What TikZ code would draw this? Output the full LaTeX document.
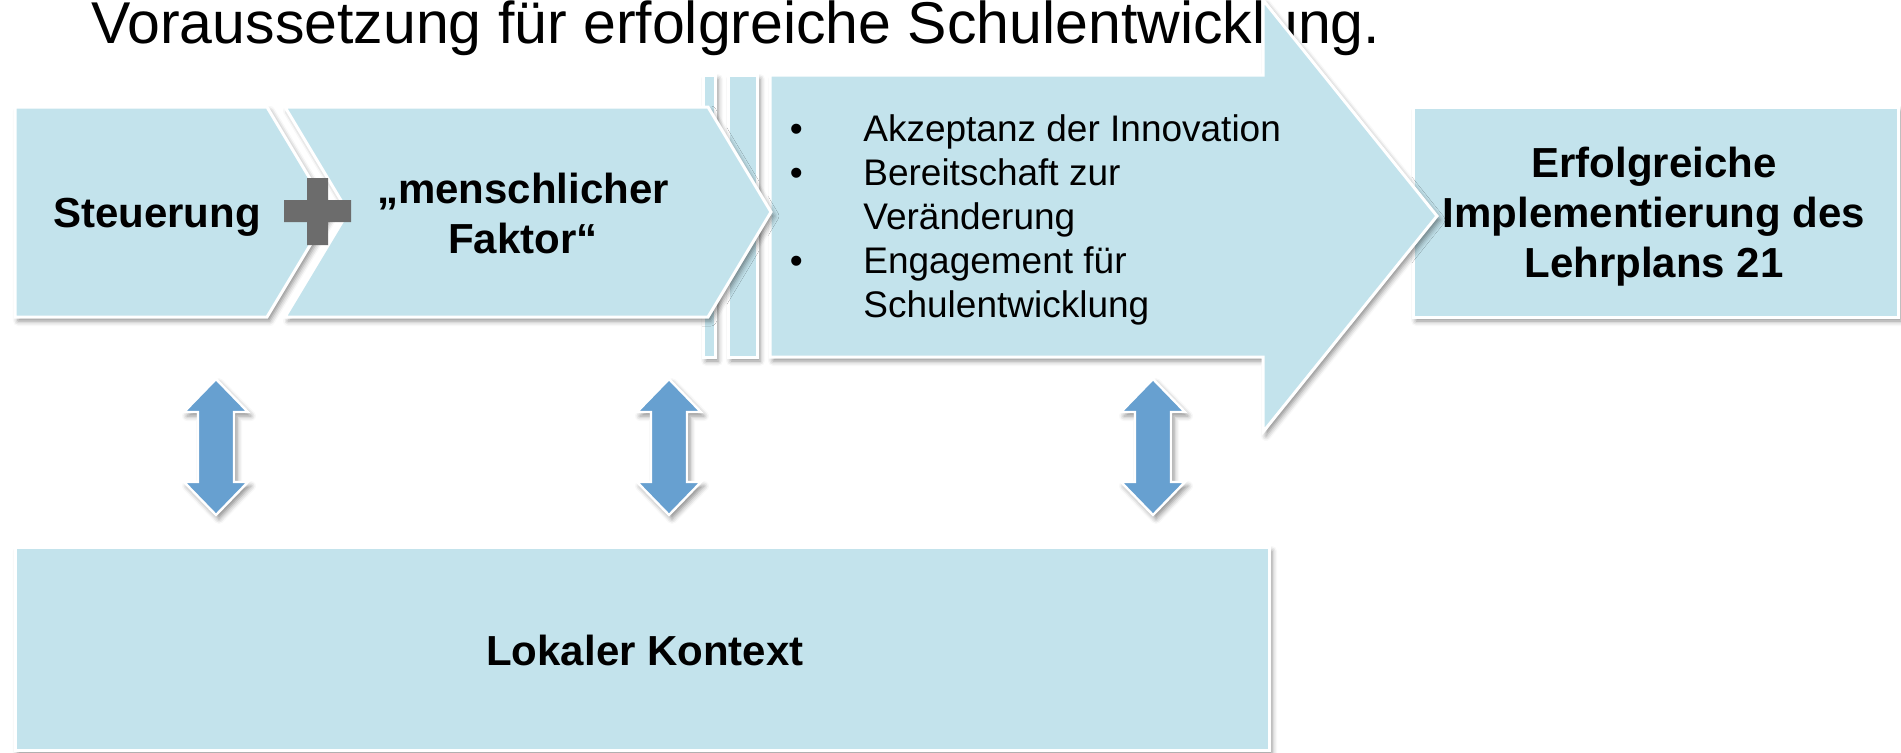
\documentclass[tikz,border=0pt]{standalone}
\usepackage{fontspec}
\setmainfont{Liberation Sans}
\usetikzlibrary{shadows.blur}
\definecolor{boxfill}{RGB}{195,227,236}
\definecolor{arrfill}{RGB}{103,160,208}
\definecolor{plusgray}{RGB}{108,108,108}
\newcommand{\bul}{\makebox[0pt][r]{•\hspace{30.3pt}}}
\begin{document}
\begin{tikzpicture}[x=0.5pt,y=-0.5pt,
  shd/.style={blur shadow={shadow xshift=1.5pt, shadow yshift=-2pt, shadow blur radius=2.5pt, shadow opacity=45}},
  blk/.style={fill=boxfill, draw=white, line width=1.5pt, line join=miter, shd},
  darr/.style={fill=arrfill, draw=white, line width=1.2pt, line join=miter, shd},
  lbl/.style={font=\fontsize{21pt}{25pt}\selectfont\bfseries, inner sep=0pt, text=black},
  bl/.style={font=\fontsize{18.5pt}{22pt}\selectfont, inner sep=0pt, text=black, align=left},
  ttl/.style={font=\fontsize{29.5pt}{34pt}\selectfont, inner sep=0pt, text=black}]
\useasboundingbox (0,0) rectangle (1901,752);
% title (cut by the top edge)
\node[ttl, anchor=base west] (title) at (91,43) {Voraussetzung für erfolgreiche Schulentwicklung.};
% target box
\path[blk] (1413,107) rectangle (1898,317);
% striped arrow
\path[blk] (703,75) rectangle (715,357);
\path[blk] (728,75) rectangle (757,357);
\path[blk] (770,75) -- (1263,75) -- (1263,0) -- (1437,216) -- (1263,432) -- (1263,357) -- (770,357) -- cycle;
% chevrons
\path[blk] (15,107) -- (267,107) -- (330,212) -- (267,317) -- (15,317) -- cycle;
\path[blk] (285,107) -- (708,107) -- (771,212) -- (708,317) -- (285,317) -- (348,212) -- cycle;
% plus
\path[fill=plusgray] (307,178) -- (328,178) -- (328,200) -- (351,200) -- (351,222) -- (328,222) -- (328,245) -- (307,245) -- (307,222) -- (284,222) -- (284,200) -- (307,200) -- cycle;
% double arrows
\foreach \cx in {216,669,1153}{
  \path[darr] (\cx,379) -- ++(32,33) -- ++(-14,0) -- ++(0,70) -- ++(14,0) -- (\cx,515) -- ++(-32,-33) -- ++(14,0) -- ++(0,-70) -- ++(-14,0) -- cycle;
}
% local context box
\path[blk] (15,547) rectangle (1269,750);
% labels (base anchor of a multi-line node = baseline of its last line)
\node[lbl, anchor=base] (steu) at (157,227) {Steuerung};
\node[lbl, anchor=base, align=center] (mensch) at (523,253) {„menschlicher\\Faktor“};
\node[lbl, anchor=base, align=center] (ziel) at (1654,277) {Erfolgreiche\\Implementierung des\\Lehrplans 21};
\node[lbl, anchor=base] (lokal) at (645,665) {Lokaler Kontext};
\node[bl, anchor=base west] (items) at (863,317) {\bul Akzeptanz der Innovation\\\bul Bereitschaft zur\\Veränderung\\\bul Engagement für\\Schulentwicklung};
\end{tikzpicture}
\end{document}
